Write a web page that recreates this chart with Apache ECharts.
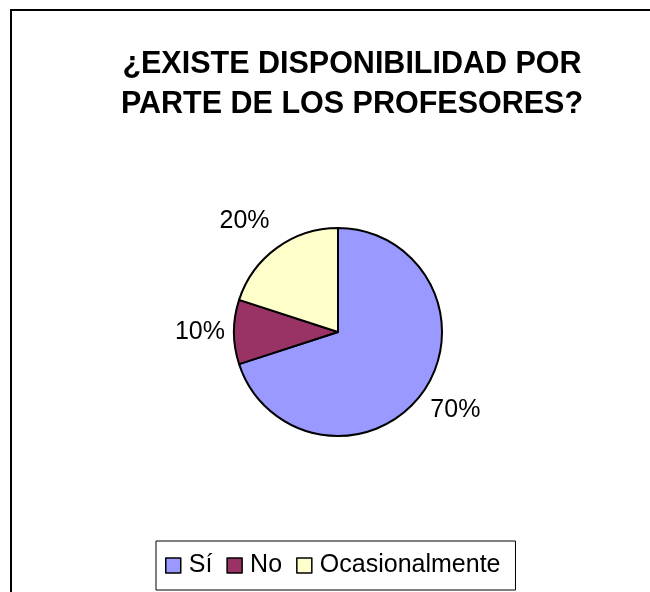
<!DOCTYPE html>
<html>
<head>
<meta charset="utf-8">
<script src="https://cdn.jsdelivr.net/npm/echarts@6/dist/echarts.min.js"></script>
<style>
html,body{margin:0;padding:0;background:#fff;}
#chart{width:650px;height:592px;}
</style>
</head>
<body>
<div id="chart"></div>
<script>
const categories = ['Sí', 'No', 'Ocasionalmente'];
const values = [70, 10, 20];
const colors = ['#9999FF', '#993366', '#FFFFCC'];
const titleText = '¿EXISTE DISPONIBILIDAD POR\nPARTE DE LOS PROFESORES?';
// per-slice label nudges (layout only)
const labelOffsets = [[0, 15], [0, 0], [0, -24]];

const chart = echarts.init(document.getElementById('chart'), null, {renderer: 'canvas'});
const FONT = '"Liberation Sans", Arial, sans-serif';

chart.setOption({
  backgroundColor: '#fff',
  animation: false,
  graphic: [{
    type: 'rect',
    shape: {x: 11, y: 10, width: 700, height: 650},
    style: {fill: 'none', stroke: '#000', lineWidth: 2},
    silent: true,
    z: 0
  }],
  title: {
    text: titleText,
    left: 347,
    top: 40,
    textAlign: 'center',
    textStyle: {fontFamily: FONT, fontSize: 30.5, fontWeight: 'bold', color: '#000', lineHeight: 40}
  },
  legend: {
    data: categories,
    left: 156,
    top: 541,
    orient: 'horizontal',
    padding: [12, 15, 12, 9],
    borderColor: '#000',
    borderWidth: 1,
    itemWidth: 15,
    itemHeight: 15,
    itemGap: 14,
    icon: 'rect',
    itemStyle: {borderColor: '#000', borderWidth: 1.5},
    textStyle: {fontFamily: FONT, fontSize: 25, color: '#000', padding: [0, 0, 0, 3]}
  },
  series: [{
    type: 'pie',
    center: [338, 332],
    radius: 104,
    startAngle: 90,
    clockwise: true,
    avoidLabelOverlap: false,
    data: categories.map((c, i) => ({
      name: c, value: values[i],
      itemStyle: {color: colors[i]},
      label: {offset: labelOffsets[i]}
    })),
    itemStyle: {borderColor: '#000', borderWidth: 2},
    label: {
      show: true,
      position: 'outside',
      formatter: p => Math.round(p.percent) + '%',
      fontFamily: FONT,
      fontSize: 25,
      color: '#000'
    },
    labelLine: {show: false, length: 4, length2: 0},
    emphasis: {disabled: true}
  }]
});
</script>
</body>
</html>
